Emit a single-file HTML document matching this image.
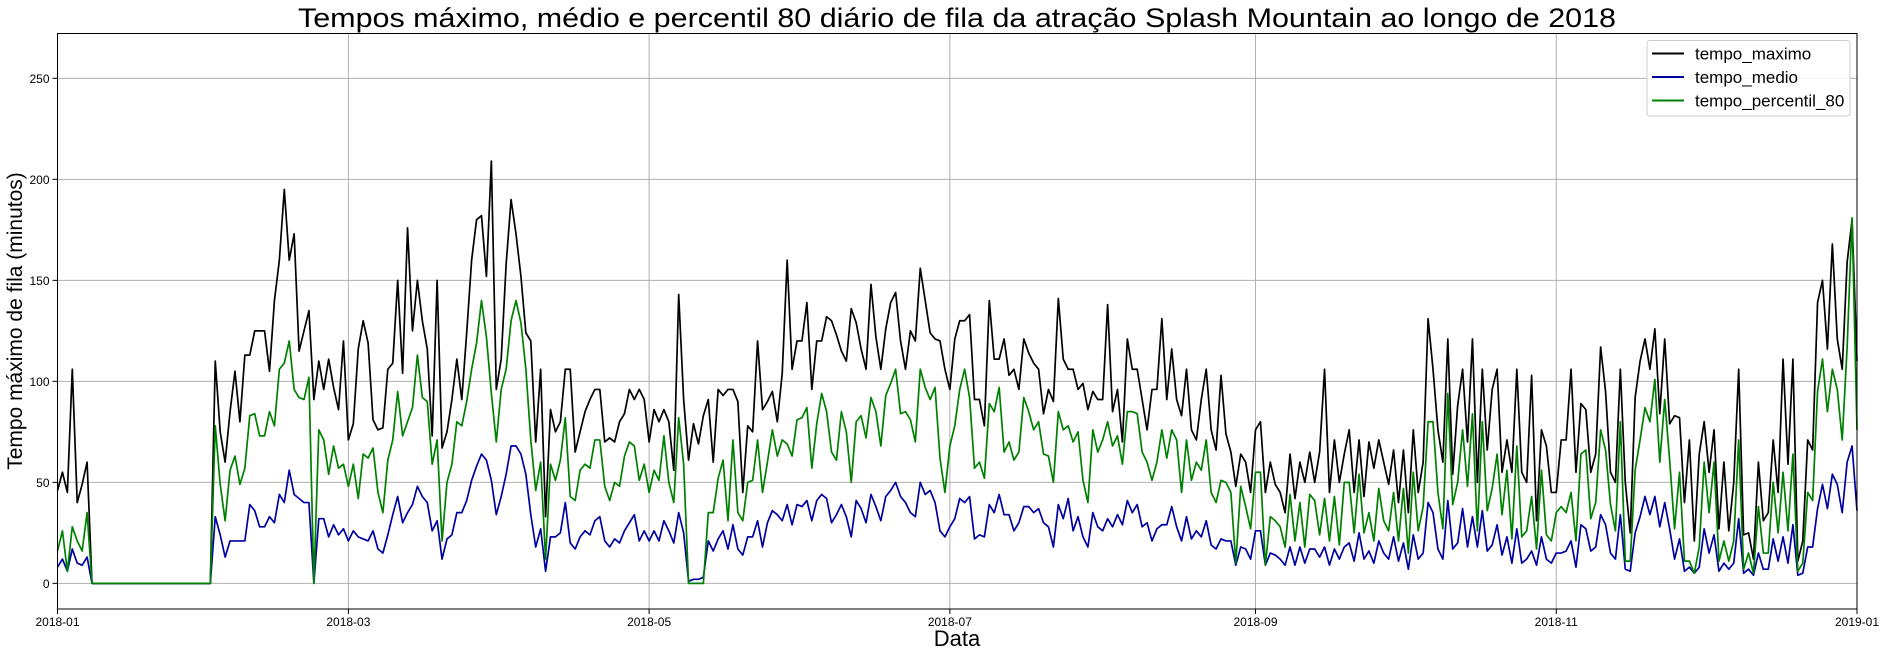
<!DOCTYPE html>
<html><head><meta charset="utf-8">
<style>
html,body{margin:0;padding:0;background:#fff;}
svg{display:block;font-family:"Liberation Sans","DejaVu Sans",sans-serif;}
</style></head>
<body>
<svg id="chart" width="1885" height="656" viewBox="0 0 1885 656" xmlns="http://www.w3.org/2000/svg">
<rect x="0" y="0" width="1885" height="656" fill="#fff"/>
<text x="957" y="27" text-anchor="middle" font-size="27" textLength="1318" lengthAdjust="spacingAndGlyphs" fill="#000">Tempos máximo, médio e percentil 80 diário de fila da atração Splash Mountain ao longo de 2018</text>
<g id="grid"></g>
<g id="series"></g>
<rect x="57.5" y="33.5" width="1799.5" height="575.5" fill="none" stroke="#000" stroke-width="1"/>
<g id="ticks"></g>
<text x="0" y="0" transform="translate(22,321) rotate(-90)" text-anchor="middle" font-size="21" fill="#000">Tempo máximo de fila (minutos)</text>
<text x="957" y="646" text-anchor="middle" font-size="22" fill="#000">Data</text>
<g>
<rect x="1647" y="40.5" width="203" height="75.5" rx="3" fill="#fff" fill-opacity="0.85" stroke="#ccc"/>
<g>
<line x1="1652" y1="53.5" x2="1684" y2="53.5" stroke="#000" stroke-width="2"/>
<text x="1695" y="59.5" font-size="17" fill="#000">tempo_maximo</text></g>
<g>
<line x1="1652" y1="77" x2="1684" y2="77" stroke="#0000a0" stroke-width="2"/>
<text x="1695" y="83" font-size="17" fill="#000">tempo_medio</text></g>
<g>
<line x1="1652" y1="100.5" x2="1684" y2="100.5" stroke="#008000" stroke-width="2"/>
<text x="1695" y="106.5" font-size="17" fill="#000">tempo_percentil_80</text></g>
</g>
</svg>
<script>
const startDate = "2018-01-01";
const xTickLabels = ["2018-01","2018-03","2018-05","2018-07","2018-09","2018-11","2019-01"];
const xTickDays = [0,59,120,181,243,304,365];
const yTickValues = [0,50,100,150,200,250];
const tempoMaximo = [46,55,45,106,40,49,60,
0,0,0,0,0,0,0,0,0,0,0,0,0,0,0,0,0,0,0,0,0,0,0,0,0,
110,75,60,85,105,80,113,113,125,125,125,105,140,160,195,160,173,115,
125,135,91,110,96,111,97,86,120,71,79,116,130,119,81,76,77,106,109,150,104,176,125,150,130,116,73,150,67,75,91,111,91,124,160,180,182,152,209,96,111,158,190,173,152,124,120,70,106,33,86,
75,80,106,106,65,75,85,91,96,96,70,72,70,80,84,96,91,96,91,70,86,80,86,80,56,143,91,61,79,69,83,91,60,96,93,96,96,90,45,78,75,120,86,90,95,80,104,160,106,120,
120,139,96,120,120,132,130,123,115,110,136,129,116,106,148,122,106,126,139,144,120,106,125,120,156,140,124,121,120,106,96,121,130,130,133,91,91,78,140,111,111,121,103,106,96,121,114,109,106,84,96,90,141,
111,106,106,96,99,86,95,91,91,138,85,96,70,121,106,106,91,76,96,96,131,91,116,91,83,106,76,71,91,106,76,66,103,74,65,48,64,60,45,76,80,45,60,49,45,35,64,42,60,50,65,50,65,106,
45,71,50,64,76,45,71,43,70,57,71,60,49,66,40,66,35,76,45,60,131,106,76,60,121,54,88,106,70,121,50,106,66,96,106,55,71,55,106,55,50,103,31,76,68,45,45,71,71,106,55,89,86,
55,64,117,95,55,50,106,50,25,92,110,121,106,126,84,121,79,83,82,40,71,21,64,80,55,76,27,60,26,50,106,24,25,12,60,31,35,71,45,111,59,111,11,21,71,66,139,150,116,168,121,106,159,180,110];
const tempoMedio = [8,12,6,17,10,9,13,
0,0,0,0,0,0,0,0,0,0,0,0,0,0,0,0,0,0,0,0,0,0,0,0,0,
33,24,13,21,21,21,21,39,36,28,28,33,30,44,40,56,44,42,40,40,0,32,32,23,29,24,27,21,26,23,22,21,26,17,15,24,34,43,30,35,39,48,43,40,26,31,12,22,24,35,35,41,51,58,
64,61,51,34,43,54,68,68,64,54,34,18,27,6,23,23,25,40,20,17,23,26,24,31,33,21,18,22,20,26,30,34,21,26,21,26,21,31,26,20,35,25,
1,2,2,3,21,16,22,26,17,29,17,14,23,23,31,18,30,36,34,31,39,29,39,38,41,
31,41,44,42,30,34,39,33,23,41,37,30,44,38,31,43,46,50,43,40,35,33,50,44,46,40,26,23,28,32,42,40,43,22,24,23,39,35,44,34,34,26,30,38,38,35,37,30,28,18,39,
32,42,26,33,23,18,35,28,26,32,28,34,29,41,35,39,28,30,21,27,29,29,38,28,21,33,22,26,23,31,19,17,22,21,21,9,18,17,12,26,26,9,15,14,12,9,18,9,18,10,17,17,13,18,
9,17,12,18,20,11,25,12,16,10,21,15,12,23,11,20,7,24,12,15,40,35,17,12,41,17,20,37,18,33,18,36,16,19,29,14,23,10,27,10,12,16,9,23,12,10,15,15,16,21,8,29,27,
16,18,34,29,15,12,34,7,6,25,33,43,34,43,28,40,27,12,22,6,8,5,8,27,15,24,6,10,7,10,32,5,7,4,15,7,7,22,11,23,10,29,4,5,18,18,37,49,37,54,49,35,60,68,36];
const tempoPercentil80 = [16,26,6,28,21,16,35,
0,0,0,0,0,0,0,0,0,0,0,0,0,0,0,0,0,0,0,0,0,0,0,0,0,
78,49,31,56,63,49,57,83,84,73,73,85,78,106,109,120,96,92,91,102,0,76,71,54,68,57,59,48,59,42,64,62,67,45,35,61,71,95,73,80,87,113,92,90,59,71,21,50,59,80,78,90,106,119,
140,122,94,70,96,106,130,140,129,106,71,46,
60,12,59,51,61,82,43,41,56,59,57,71,71,48,41,50,48,63,70,68,51,59,45,56,51,73,50,40,82,59,
0,0,0,0,35,35,52,61,31,71,35,31,50,51,71,45,60,76,63,71,69,63,81,82,87,
57,79,94,85,65,61,85,75,50,80,83,72,92,85,68,93,99,106,84,85,81,70,106,97,91,97,62,45,68,78,96,106,92,57,60,52,89,85,97,65,70,61,65,92,85,76,80,64,63,50,85,
76,78,70,75,51,40,76,65,71,80,68,73,59,85,85,84,65,60,51,60,76,62,76,71,45,71,51,60,56,71,45,40,51,50,45,10,48,38,27,55,55,9,33,31,28,18,44,21,40,18,44,41,24,42,
21,43,19,50,50,25,54,25,35,21,47,31,26,45,21,47,15,55,26,38,80,80,45,27,94,39,50,76,48,84,26,80,36,47,64,34,56,22,68,23,26,43,17,56,24,21,35,38,35,45,21,64,66,
32,40,76,66,39,26,80,11,11,56,71,87,80,101,60,91,61,27,55,11,11,5,18,60,35,60,11,21,11,21,71,7,15,5,38,15,15,50,25,55,26,64,6,10,45,41,95,111,85,106,96,71,117,181,76];

const NS = "http://www.w3.org/2000/svg";
const PL = 57.5, PR = 1857, PT = 33.5, PB = 609;
const DAYS = 365, YMIN = -12.7, YMAX = 272.2;
function xScale(d){ return PL + d * (PR - PL) / DAYS; }
function yScale(v){ return PB - (v - YMIN) * (PB - PT) / (YMAX - YMIN); }
function dayOf(i){ return i; }

const grid = document.getElementById('grid');
const ticks = document.getElementById('ticks');
xTickDays.forEach((d, i) => {
  const x = xScale(d);
  const gl = document.createElementNS(NS, 'line');
  gl.setAttribute('x1', x); gl.setAttribute('x2', x);
  gl.setAttribute('y1', PT); gl.setAttribute('y2', PB);
  gl.setAttribute('stroke', '#b0b0b0'); gl.setAttribute('stroke-width', '1');
  
  
  grid.appendChild(gl);
  const tk = document.createElementNS(NS, 'line');
  tk.setAttribute('x1', x); tk.setAttribute('x2', x);
  tk.setAttribute('y1', PB); tk.setAttribute('y2', PB + 5);
  tk.setAttribute('stroke', '#000');
  
  
  ticks.appendChild(tk);
  const t = document.createElementNS(NS, 'text');
  t.setAttribute('x', x); t.setAttribute('y', PB + 17);
  t.setAttribute('text-anchor', 'middle'); t.setAttribute('font-size', '12');
  t.textContent = xTickLabels[i];
  
  
  ticks.appendChild(t);
});
yTickValues.forEach(v => {
  const y = yScale(v);
  const gl = document.createElementNS(NS, 'line');
  gl.setAttribute('x1', PL); gl.setAttribute('x2', PR);
  gl.setAttribute('y1', y); gl.setAttribute('y2', y);
  gl.setAttribute('stroke', '#b0b0b0'); gl.setAttribute('stroke-width', '1');
  
  
  grid.appendChild(gl);
  const tk = document.createElementNS(NS, 'line');
  tk.setAttribute('x1', PL - 5); tk.setAttribute('x2', PL);
  tk.setAttribute('y1', y); tk.setAttribute('y2', y);
  tk.setAttribute('stroke', '#000');
  
  
  ticks.appendChild(tk);
  const t = document.createElementNS(NS, 'text');
  t.setAttribute('x', PL - 8); t.setAttribute('y', y + 4.5);
  t.setAttribute('text-anchor', 'end'); t.setAttribute('font-size', '12');
  t.textContent = String(v);
  
  
  ticks.appendChild(t);
});

const seriesG = document.getElementById('series');
function drawSeries(values, color, name){
  const pts = values.map((v, i) => xScale(dayOf(i)).toFixed(2) + ',' + yScale(v).toFixed(2)).join(' ');
  const pl = document.createElementNS(NS, 'polyline');
  pl.setAttribute('points', pts);
  pl.setAttribute('fill', 'none');
  pl.setAttribute('stroke', color);
  pl.setAttribute('stroke-width', '1.7');
  pl.setAttribute('stroke-linejoin', 'round');
  
  
  seriesG.appendChild(pl);
}
drawSeries(tempoMaximo, '#000000', 'line-tempo-maximo');
drawSeries(tempoMedio, '#0000a0', 'line-tempo-medio');
drawSeries(tempoPercentil80, '#008000', 'line-tempo-percentil-80');
</script>
</body></html>
